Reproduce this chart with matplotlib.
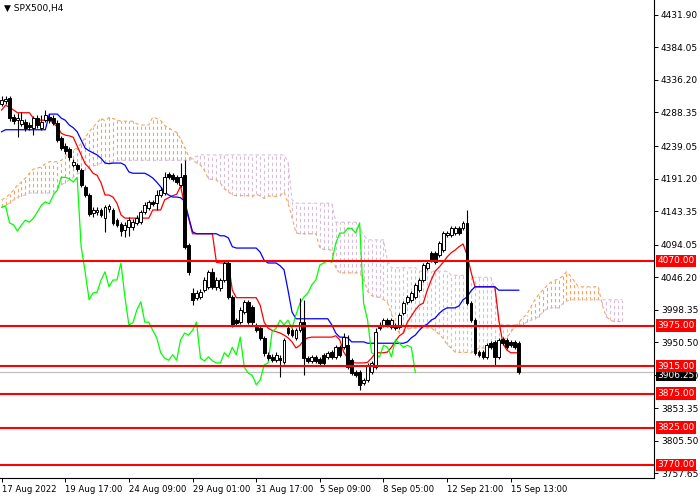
import matplotlib
matplotlib.use('Agg')
import matplotlib.pyplot as plt
import numpy as np
from matplotlib.transforms import blended_transform_factory

symbol_title = 'SPX500,H4'

opens = [4301,4305,4310,4282,4277,4271,4274,4270,4266,4280,
         4266,4277,4282,4280,4273,4251,4239,4235,4211,4211,
         4204,4179,4167,4141,4142,4145,4133,4146,4145,4130,
         4124,4116,4120,4120,4126,4127,4142,4148,4157,4155,
         4167,4170,4198,4196,4193,4182,4196,4093,4023,4016,
         4017,4027,4032,4054,4032,4030,4042,4067,4017,3983,
         3980,3995,4010,4002,3976,3971,3957,3932,3929,3924,
         3927,3921,3971,3968,3957,3968,3980,3927,3923,3929,
         3926,3932,3929,3936,3929,3943,3943,3946,3924,3907,
         3907,3891,3895,3907,3914,3976,3976,3983,3973,3976,
         3973,3993,4010,4013,4017,4027,4042,4060,4082,4082,
         4079,4086,4108,4108,4111,4118,4118,4126,4008,3983,
         3936,3936,3929,3949,3951,3929,3955,3954,3951,3951,
         3949]
highs = [4313,4313,4313,4286,4288,4289,4279,4274,4283,4285,
         4285,4292,4286,4285,4277,4254,4243,4238,4220,4214,
         4207,4182,4170,4149,4149,4148,4152,4154,4148,4133,
         4127,4127,4135,4132,4138,4145,4157,4160,4160,4174,
         4179,4201,4201,4199,4196,4214,4218,4096,4030,4027,
         4029,4046,4057,4060,4046,4045,4070,4071,4020,3986,
         4002,4013,4013,4005,3979,3974,3960,3936,3933,3936,
         3932,3957,3976,3971,3971,4016,4013,3930,3932,3932,
         3929,3935,3938,3939,3946,3946,3964,3961,3927,3910,
         3910,3898,3920,3923,3971,3980,3986,3986,3986,3979,
         3993,4011,4020,4026,4038,4045,4067,4070,4085,4085,
         4099,4114,4114,4121,4121,4121,4129,4145,4011,3986,
         3939,3939,3949,3952,3954,3957,3958,3957,3954,3954,
         3952]
lows = [4298,4301,4276,4271,4252,4268,4261,4263,4255,4266,
        4263,4274,4273,4270,4245,4233,4227,4218,4208,4202,
        4179,4164,4136,4135,4138,4135,4113,4142,4123,4120,
        4107,4105,4107,4116,4123,4124,4139,4145,4151,4145,
        4164,4167,4191,4188,4183,4179,4088,4049,4005,4013,
        4014,4024,4029,4029,4027,4026,4039,4014,3973,3974,
        3977,3992,3977,3976,3966,3954,3930,3924,3921,3921,
        3899,3918,3961,3958,3954,3966,3902,3920,3920,3920,
        3917,3917,3926,3926,3926,3929,3941,3911,3902,3899,
        3880,3888,3892,3904,3911,3968,3973,3973,3970,3968,
        3970,3991,4007,4010,4014,4024,4039,4057,4068,4066,
        4076,4083,4105,4105,4108,4108,4116,4005,3980,3932,
        3929,3926,3926,3941,3917,3926,3946,3941,3943,3941,
        3904]
closes = [4307,4308,4280,4276,4280,4277,4266,4267,4280,4270,
          4274,4285,4277,4273,4248,4236,4232,4223,4216,4205,
          4182,4167,4139,4145,4145,4138,4149,4151,4126,4123,
          4114,4123,4130,4127,4133,4142,4152,4157,4154,4167,
          4174,4193,4193,4191,4186,4193,4091,4054,4013,4023,
          4024,4042,4054,4032,4042,4042,4067,4017,3976,3979,
          3998,4010,3980,3980,3968,3957,3935,3927,3924,3932,
          3924,3954,3964,3961,3968,3980,3927,3923,3929,3923,
          3920,3920,3935,3929,3943,3932,3958,3914,3905,3902,
          3888,3895,3917,3920,3966,3971,3983,3976,3983,3971,
          3991,4008,4017,4023,4035,4042,4064,4067,4071,4068,
          4096,4111,4111,4118,4118,4111,4126,4008,3983,3935,
          3932,3929,3946,3943,3929,3954,3949,3943,3946,3943,
          3906.25]

tenkan = [4292,4299,4296,4292,4288,4288,4288,4288,4280,4277,
          4277,4277,4277,4273,4267,4258,4255,4254,4252,4239,
          4226,4213,4207,4199,4196,4185,4167,4167,4164,4155,
          4138,4133,4133,4133,4133,4133,4133,4133,4145,4145,
          4145,4160,4163,4166,4168,4180,4152,4133,4110,4110,
          4110,4110,4110,4110,4068,4067,4067,4067,4027,4016,
          4016,4016,4016,4016,4016,4005,3980,3971,3968,3966,
          3964,3961,3957,3951,3942,3946,3954,3957,3958,3958,
          3958,3958,3958,3958,3960,3954,3936,3927,3921,3920,
          3920,3920,3921,3927,3935,3935,3935,3936,3943,3952,
          3960,3964,3980,3989,3998,4005,4008,4027,4042,4055,
          4061,4068,4076,4082,4086,4091,4095,4079,4054,4032,
          4032,4032,4032,4032,4032,3983,3949,3939,3935,3935,
          3935]
kijun = [4260,4263,4263,4263,4263,4263,4263,4263,4263,4263,
         4263,4263,4286,4286,4286,4280,4277,4270,4266,4260,
         4248,4236,4232,4229,4226,4221,4214,4213,4214,4214,
         4214,4211,4201,4199,4199,4199,4199,4196,4192,4186,
         4179,4171,4167,4164,4164,4163,4158,4135,4113,4110,
         4110,4110,4110,4110,4110,4107,4107,4104,4091,4089,
         4089,4089,4089,4089,4089,4083,4071,4067,4067,4067,
         4063,4057,4027,3995,3985,3985,3985,3985,3985,3985,
         3985,3985,3985,3976,3964,3958,3958,3957,3951,3951,
         3951,3951,3949,3949,3949,3949,3949,3949,3949,3949,
         3949,3949,3951,3957,3961,3968,3974,3977,3983,3986,
         3993,3998,4001,4001,4001,4004,4013,4017,4026,4032,
         4032,4032,4032,4032,4032,4027,4027,4027,4027,4027,
         4027]
span_a = [4160,4163,4168,4174,4182,4186,4192,4199,4205,4207,
          4208,4213,4216,4216,4216,4218,4223,4230,4233,4236,
          4243,4251,4260,4267,4273,4280,
          4276,4281,4279.5,4277.5,4275.5,4275.5,4275.5,4275.5,4271.5,4270,
          4270,4270,4281.5,4279.5,4276.5,4269,4266,4262,4259,4249.5,
          4237,4224.5,4219.5,4214,4211,4203,4190.5,4190,4189,4184.5,
          4176,4172,4167,4166,4166,4166,4166,4164.5,4168.5,4165.5,
          4162,4165.5,4165,4165,4166,4171.5,4155,4134,4111.5,4110,
          4110,4110,4110,4110,4089,4087,4087,4085.5,4059,4052.5,
          4052.5,4052.5,4052.5,4052.5,4052.5,4044,4025.5,4019,4017.5,4016.5,
          4013.5,4009,3992,3973,3963.5,3965.5,3969.5,3971,3971.5,3971.5,
          3971.5,3971.5,3971.5,3967,3962,3956,3947,3942,3936,3935.5,
          3935.5,3935.5,3935,3938,3942,3942,3942,3942.5,3946,3950.5,
          3954.5,3956.5,3965.5,3973,3979.5,3986.5,3991,4002,4012.5,4020.5,
          4027,4033,4038.5,4041.5,4043.5,4047.5,4054,4048,4040,4032,
          4032,4032,4032,4032,4032,4005,3988,3983,3981,3981,
          3981]
span_b = [4149,4152,4155,4160,4163,4166,4167,4170,4170,4170,
          4170,4170,4170,4170,4177,4182,4185,4189,4193,4198,
          4201,4204,4207,4210,4211,4214,4214,4214,4216,4218,
          4218,4218,4218,4218,4218,4218,4218,4218,4218,4218,
          4218,4218,4218,4218,4218,4218,4218,4218,4221,4224,
          4226,4226,4226,4226,4226,4226,4226,4226,4226,4226,
          4226,4226,4226,4226,4226,4226,4226,4226,4226,4226,
          4226,4226,4216,4160,4155,4155,4155,4155,4155,4155,
          4155,4155,4155,4155,4127,4127,4127,4127,4127,4127,
          4118,4108,4101,4101,4101,4101,4101,4071,4060,4060,
          4060,4060,4060,4060,4060,4055,4055,4055,4055,4055,
          4055,4055,4055,4049,4049,4049,4049,4046,4046,4046,
          4046,4046,4046,4046,4027,3979,3976,3976,3976,3976,
          3976,3976,3980,3983,3985,3988,3995,3999,4001,4001,
          4001,4007,4011,4013,4013,4013,4013,4013,4013,4013,
          4013,4013,4013,4013,4013,4013,4013]
chikou_shift = 26

level_lines = [4070.00, 3975.00, 3915.00, 3875.00, 3825.00, 3770.00]
price_ticks = [4431.90, 4384.05, 4336.20, 4288.35, 4239.05, 4191.20, 4143.35,
               4094.05, 4046.20, 3998.35, 3950.50, 3901.80, 3853.35, 3805.50, 3757.65]
time_labels = ['17 Aug 2022', '19 Aug 17:00', '24 Aug 09:00', '29 Aug 01:00',
               '31 Aug 17:00', '5 Sep 09:00', '8 Sep 05:00', '12 Sep 21:00', '15 Sep 13:00']
time_label_bars = [0, 16, 32, 48, 64, 80, 96, 112, 128]

plt.rcParams['font.family'] = ['DejaVu Sans']

fig = plt.figure(figsize=(7, 5), dpi=100)
ax = fig.add_axes([0, 22 / 500, 654 / 700, 478 / 500])
ax.set_xlim(-0.4, 164.0)
ax.set_ylim(3750.8, 4453.8)

SANDY = '#F4A460'
THISTLE = '#D8BFD8'

# Ichimoku cloud (histogram of vertical dotted lines)
xs_cloud = np.arange(len(span_a))
sa = np.array(span_a, dtype=float)
sb = np.array(span_b, dtype=float)
up = sa >= sb
ax.vlines(xs_cloud[up], sb[up], sa[up], colors=SANDY, linewidth=0.8,
          linestyles=(0, (3, 2.5)), zorder=1)
ax.vlines(xs_cloud[~up], sa[~up], sb[~up], colors=THISTLE, linewidth=0.8,
          linestyles=(0, (3, 2.5)), zorder=1)
ax.plot(xs_cloud, sa, color=SANDY, lw=0.8, ls=(0, (3, 2.5)), zorder=1.2)
ax.plot(xs_cloud, sb, color=THISTLE, lw=0.8, ls=(0, (3, 2.5)), zorder=1.2)

# Current price line
ax.axhline(closes[-1], color='#C0C0C0', lw=0.9, zorder=1.5)

# Lines
xb = np.arange(len(closes))
ax.plot(xb, tenkan, color='#FF0000', lw=0.9, zorder=2)
ax.plot(xb, kijun, color='#0000FF', lw=0.9, zorder=2)
ax.plot(xb[:len(closes) - chikou_shift], closes[chikou_shift:], color='#00FF00', lw=0.9, zorder=2)

# Candles
o = np.array(opens, dtype=float)
h = np.array(highs, dtype=float)
l = np.array(lows, dtype=float)
c = np.array(closes, dtype=float)
ax.vlines(xb, l, h, colors='black', lw=0.8, zorder=3)
bull = c >= o
bottoms = np.minimum(o, c)
heights = np.maximum(np.abs(c - o), 0.9)
ax.bar(xb[bull], heights[bull], bottom=bottoms[bull], width=0.72,
       color='white', edgecolor='black', linewidth=0.7, zorder=3.2)
ax.bar(xb[~bull], heights[~bull], bottom=bottoms[~bull], width=0.72,
       color='black', edgecolor='black', linewidth=0.7, zorder=3.2)

# Level lines
for v in level_lines:
    ax.axhline(v, color='#FF0000', lw=1.5, zorder=4)

# Axes styling
for s in ['top', 'left']:
    ax.spines[s].set_visible(False)
for s in ['right', 'bottom']:
    ax.spines[s].set_color('black')
    ax.spines[s].set_linewidth(0.8)

ax.yaxis.set_ticks_position('right')
ax.set_yticks(price_ticks)
ax.set_yticklabels([f'{v:.2f}' for v in price_ticks])
ax.tick_params(axis='y', direction='out', length=3, width=0.7, labelsize=6.5, pad=2, colors='black')

ax.set_xticks(time_label_bars)
ax.set_xticklabels(time_labels)
for lab in ax.get_xticklabels():
    lab.set_horizontalalignment('left')
ax.tick_params(axis='x', direction='out', length=3, width=0.7, labelsize=6.1, pad=2)

trans = blended_transform_factory(ax.transAxes, ax.transData)
# current price label (black), partly hidden under the 3915 level label as in MT4
ax.annotate(f'{closes[-1]:.2f}', xy=(1.0, closes[-1]), xycoords=trans,
            xytext=(2.5, -2), textcoords='offset points', ha='left', va='center',
            fontsize=6.5, color='white', annotation_clip=False, zorder=5,
            bbox=dict(boxstyle='square,pad=0.18', fc='black', ec='none'))
for v in level_lines:
    ax.annotate(f'{v:.2f}', xy=(1.0, v), xycoords=trans,
                xytext=(2.5, 0), textcoords='offset points', ha='left', va='center',
                fontsize=6.5, color='white', annotation_clip=False, zorder=6,
                bbox=dict(boxstyle='square,pad=0.18', fc='#FF0000', ec='none'))

ax.text(0.006, 0.983, '\u25BC ' + symbol_title, transform=ax.transAxes,
        fontsize=6.5, va='center', ha='left', color='black', zorder=7)

fig.savefig('out.png', dpi=100)
